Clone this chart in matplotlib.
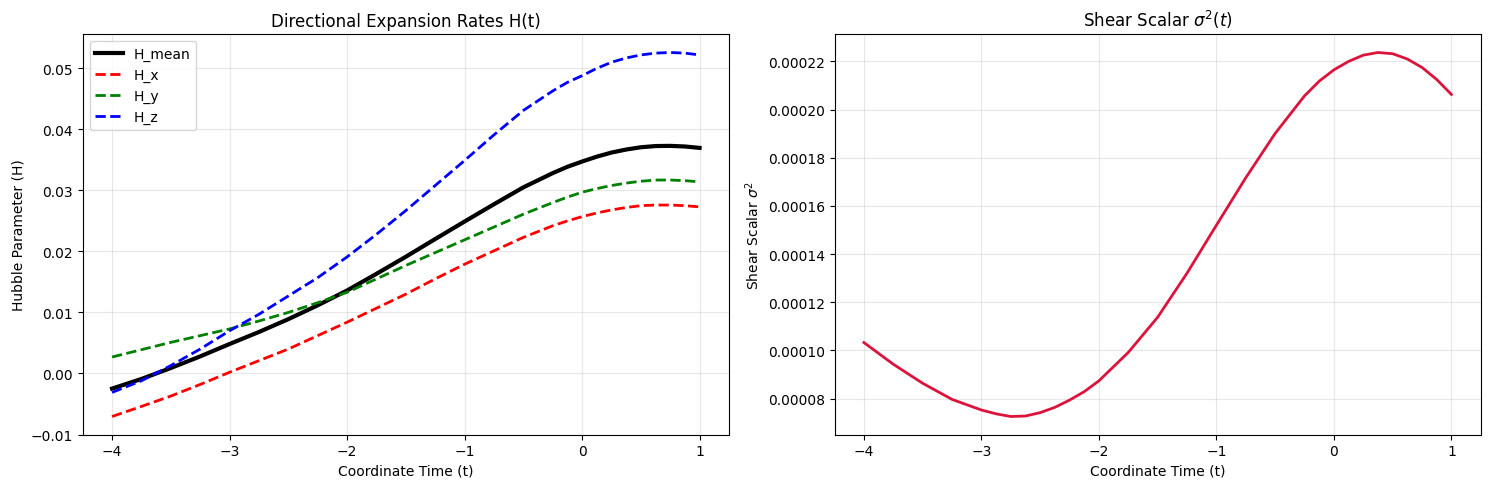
import matplotlib
matplotlib.use("Agg")
import matplotlib.pyplot as plt

t = [-4.0, -3.75, -3.5, -3.25, -3.0, -2.75, -2.5, -2.25, -2.0, -1.75, -1.5,
     -1.25, -1.0, -0.75, -0.5, -0.25, -0.125, 0.0, 0.125, 0.25, 0.375, 0.5,
     0.625, 0.75, 0.875, 1.0]

H_x = [-0.00705, -0.0054, -0.0037, -0.0018, 0.0002, 0.0021, 0.0040, 0.0062, 0.0084,
       0.0107, 0.0130, 0.0155, 0.0179, 0.0201, 0.0223, 0.0242, 0.0250, 0.0257,
       0.0263, 0.0268, 0.0272, 0.0275, 0.0276, 0.0276, 0.0275, 0.0273]
H_y = [0.0027, 0.0039, 0.0051, 0.0062, 0.0073, 0.0086, 0.0100, 0.0116, 0.0133,
       0.0155, 0.0177, 0.0198, 0.0219, 0.0240, 0.0261, 0.0280, 0.0289, 0.0297,
       0.0303, 0.0308, 0.0312, 0.0315, 0.0317, 0.0317, 0.0316, 0.0314]
H_z = [-0.0031, -0.0012, 0.0013, 0.0040, 0.0070, 0.0097, 0.0127, 0.0157, 0.0191,
       0.0228, 0.0267, 0.0308, 0.0349, 0.0391, 0.0431, 0.0463, 0.0477, 0.0488,
       0.0500, 0.0510, 0.0517, 0.0522, 0.0525, 0.0526, 0.0525, 0.0522]
H_mean = [-0.00248, -0.0009, 0.0009, 0.0028, 0.00483, 0.0068, 0.0089, 0.01117, 0.0136,
          0.01633, 0.01913, 0.02203, 0.0249, 0.02773, 0.0305, 0.03283, 0.03387,
          0.03473, 0.03553, 0.0362, 0.0367, 0.03707, 0.03727, 0.0373, 0.0372,
          0.03697]

t_shear = [-4.0, -3.75, -3.5, -3.25, -3.0, -2.875, -2.75, -2.625, -2.5, -2.375,
           -2.25, -2.125, -2.0, -1.75, -1.5, -1.25, -1.0, -0.75, -0.5, -0.25,
           -0.125, 0.0, 0.125, 0.25, 0.375, 0.5, 0.625, 0.75, 0.875, 1.0]
sigma2 = [0.0001033, 0.0000943, 0.0000864, 0.0000797, 0.0000753, 0.0000737,
          0.0000726, 0.0000728, 0.0000742, 0.0000764, 0.0000794, 0.0000829,
          0.0000874, 0.0000992, 0.0001138, 0.0001321, 0.000152, 0.0001717,
          0.0001901, 0.0002057, 0.0002118, 0.0002165, 0.0002200, 0.0002226,
          0.0002237, 0.0002232, 0.0002210, 0.0002175, 0.0002125, 0.0002063]

fig, (ax1, ax2) = plt.subplots(1, 2, figsize=(14.9, 4.89), dpi=100)
fig.subplots_adjust(left=0.0555, right=0.9938, top=0.9278, bottom=0.109, wspace=0.1634)

ax1.plot(t, H_mean, color='black', linewidth=3, label='H_mean')
ax1.plot(t, H_x, color='red', linestyle='--', linewidth=2, label='H_x')
ax1.plot(t, H_y, color='green', linestyle='--', linewidth=2, label='H_y')
ax1.plot(t, H_z, color='blue', linestyle='--', linewidth=2, label='H_z')
ax1.set_title('Directional Expansion Rates H(t)')
ax1.set_xlabel('Coordinate Time (t)')
ax1.set_ylabel('Hubble Parameter (H)')
ax1.legend(loc='upper left')
ax1.grid(True, alpha=0.3)

ax2.plot(t_shear, sigma2, color='crimson', linewidth=2)
ax2.set_title(r'Shear Scalar $\sigma^2(t)$')
ax2.set_xlabel('Coordinate Time (t)')
ax2.set_ylabel(r'Shear Scalar $\sigma^2$')
ax2.grid(True, alpha=0.3)

fig.savefig('out.png', dpi=100)
